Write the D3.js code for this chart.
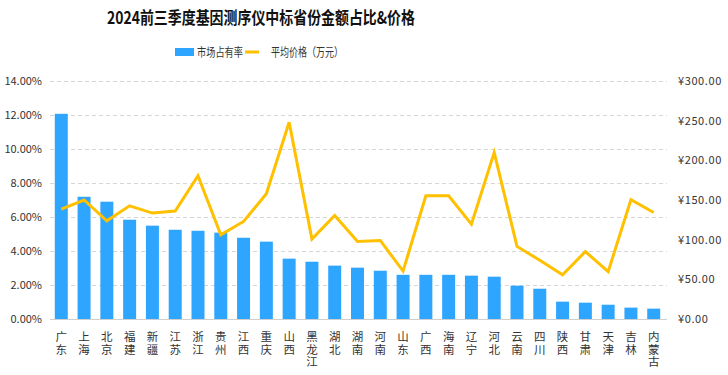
<!DOCTYPE html>
<html>
<head>
<meta charset="utf-8">
<script src="https://cdn.jsdelivr.net/npm/d3@7"></script>
<style>
body { margin:0; background:#fff; }
text { font-family: "Noto Sans CJK SC", "Noto Sans", sans-serif; }
</style>
</head>
<body>
<div id="chart"></div>
<script>
// data
var provinces = ["广东","上海","北京","福建","新疆","江苏","浙江","贵州","江西","重庆","山西","黑龙江","湖北","湖南","河南","山东","广西","海南","辽宁","河北","云南","四川","陕西","甘肃","天津","吉林","内蒙古"];
var share = [12.07,7.19,6.90,5.84,5.49,5.25,5.19,5.08,4.78,4.55,3.55,3.37,3.14,3.02,2.84,2.60,2.60,2.60,2.55,2.49,1.96,1.78,1.02,0.96,0.84,0.67,0.61];
var price = [138.5,150,123.8,142.7,133.5,136,180.5,106,123,157.8,248,100.7,130.5,97.8,99,60.4,155.3,155.3,119.6,209.8,91.5,74,55.8,85,59.6,150.3,134.3];
var leftTicks = [0,2,4,6,8,10,12,14];
var rightTicks = [0,50,100,150,200,250,300];

var W = 728, H = 375;
var margin = { left:50, right:63, top:81, bottom:56 };
var w = W - margin.left - margin.right;
var h = H - margin.top - margin.bottom;

var svg = d3.select("#chart").append("svg")
    .attr("width", W)
    .attr("height", H);

// title (condensed like the original font)
svg.append("text")
    .attr("x", 107)
    .attr("y", 24)
    .attr("font-size", 17)
    .attr("font-weight", "bold")
    .attr("fill", "#111")
    .attr("textLength", 308)
    .attr("lengthAdjust", "spacingAndGlyphs")
    .text("2024前三季度基因测序仪中标省份金额占比&价格");

// legend
var legend = svg.append("g").attr("transform", "translate(175,52)");
legend.append("rect").attr("x", 0).attr("y", -4).attr("width", 19).attr("height", 8).attr("fill", "#2EA5FF");
legend.append("text").attr("x", 22).attr("y", 4.5).attr("font-size", 12).attr("fill", "#333")
    .attr("textLength", 46).attr("lengthAdjust", "spacingAndGlyphs")
    .text("市场占有率");
legend.append("line").attr("x1", 70).attr("x2", 84).attr("y1", 0).attr("y2", 0)
    .attr("stroke", "#FFC000").attr("stroke-width", 3);
legend.append("text").attr("x", 96).attr("y", 4.5).attr("font-size", 12).attr("fill", "#333")
    .attr("textLength", 72).attr("lengthAdjust", "spacingAndGlyphs")
    .text("平均价格（万元）");

var g = svg.append("g")
    .attr("transform", "translate(" + margin.left + "," + margin.top + ")");

var x = d3.scaleBand()
    .domain(provinces)
    .range([0, w])
    .paddingInner(0.43)
    .paddingOuter(0.21);

var yL = d3.scaleLinear().domain([0, 14]).range([h, 0]);
var yR = d3.scaleLinear().domain([0, 300]).range([h, 0]);

// gridlines
g.selectAll(".grid")
    .data(leftTicks.slice(1))
    .enter()
    .append("line")
    .attr("class", "grid")
    .attr("x1", 0)
    .attr("x2", w + 2)
    .attr("y1", function(d){ return Math.round(yL(d)) + 0.5; })
    .attr("y2", function(d){ return Math.round(yL(d)) + 0.5; })
    .attr("stroke", "#d6d6d6")
    .attr("stroke-dasharray", "4,3");

// left axis
var yAxisL = d3.axisLeft(yL).tickValues(leftTicks).tickSize(0).tickPadding(8)
    .tickFormat(function(d){ return d.toFixed(2) + "%"; });
var gl = g.append("g").call(yAxisL);
gl.select(".domain").remove();
gl.selectAll("text").attr("font-size", 11).attr("fill", "#333")
    .style("font-family", "'Noto Sans CJK SC', sans-serif");

// right axis
var yAxisR = d3.axisRight(yR).tickValues(rightTicks).tickSize(0).tickPadding(13)
    .tickFormat(function(d){ return "¥" + d.toFixed(2); });
var gr = g.append("g").attr("transform", "translate(" + w + ",0)").call(yAxisR);
gr.select(".domain").remove();
gr.selectAll("text").attr("font-size", 11).attr("fill", "#333")
    .attr("letter-spacing", 0.6)
    .style("font-family", "'Noto Sans CJK SC', sans-serif");

// bars
g.selectAll(".bar")
    .data(share)
    .enter()
    .append("rect")
    .attr("class", "bar")
    .attr("x", function(d, i){ return x(provinces[i]); })
    .attr("width", x.bandwidth())
    .attr("y", function(d){ return yL(d); })
    .attr("height", function(d){ return h - yL(d); })
    .attr("fill", "#2EA5FF");

// baseline
g.append("line")
    .attr("x1", 0).attr("x2", w + 2)
    .attr("y1", h + 0.5).attr("y2", h + 0.5)
    .attr("stroke", "#cfcfcf");

// price line
var line = d3.line()
    .x(function(d, i){ return x(provinces[i]) + x.bandwidth() / 2; })
    .y(function(d){ return yR(d); });

g.append("path")
    .datum(price)
    .attr("d", line)
    .attr("fill", "none")
    .attr("stroke", "#FFC000")
    .attr("stroke-width", 3)
    .attr("stroke-linejoin", "miter");

// x labels, written vertically
g.selectAll(".xlabel")
    .data(provinces)
    .enter()
    .append("text")
    .attr("class", "xlabel")
    .attr("x", function(d){ return x(d) + x.bandwidth() / 2; })
    .attr("y", h + 12)
    .style("writing-mode", "vertical-rl")
    .style("text-orientation", "upright")
    .attr("letter-spacing", 1)
    .attr("font-size", 11.5)
    .attr("fill", "#333")
    .text(function(d){ return d; });
</script>
</body>
</html>
